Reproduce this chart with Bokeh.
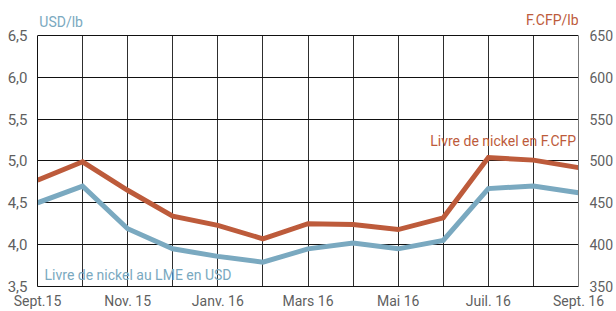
from bokeh.plotting import figure
from bokeh.models import Range1d, LinearAxis, FixedTicker, CustomJSTickFormatter, Label
from bokeh.embed import file_html
from bokeh.resources import INLINE

months = ["Sept.15", "Oct. 15", "Nov. 15", "Déc. 15", "Janv. 16", "Févr. 16", "Mars 16",
          "Avr. 16", "Mai 16", "Juin 16", "Juil. 16", "Août 16", "Sept. 16"]
shown_months = ["Sept.15", "Nov. 15", "Janv. 16", "Mars 16", "Mai 16", "Juil. 16", "Sept. 16"]
usd_lme = [4.50, 4.70, 4.19, 3.95, 3.86, 3.79, 3.95, 4.02, 3.95, 4.05, 4.67, 4.70, 4.62]
cfp_price = [477, 499, 465, 434, 423, 407, 425, 424, 418, 432, 504, 501, 492]
usd_ticks = [3.5, 4.0, 4.5, 5.0, 5.5, 6.0, 6.5]
cfp_ticks = [350, 400, 450, 500, 550, 600, 650]

FONT = "Roboto"
BLUE = "#7aa9c0"
RED = "#bd5b3b"
GREY = "#5f5f5f"

# layout (pixels): plot frame spans 252 px for the 3.5..6.5 scale, plus a 25 px
# headroom strip above it where the unit titles sit
FRAME_PX = 252
HEAD_PX = 25
usd_span = usd_ticks[-1] - usd_ticks[0]
cfp_span = cfp_ticks[-1] - cfp_ticks[0]
usd_top = usd_ticks[-1] + usd_span * HEAD_PX / FRAME_PX
cfp_top = cfp_ticks[-1] + cfp_span * HEAD_PX / FRAME_PX

x = list(range(len(months)))

p = figure(width=616, height=311, output_backend="svg", toolbar_location=None,
           x_range=Range1d(0, len(months) - 1), y_range=Range1d(usd_ticks[0], usd_top),
           min_border_left=37, min_border_right=31, min_border_top=10, min_border_bottom=24,
           background_fill_color="white", border_fill_color="white")
p.extra_y_ranges = {"cfp": Range1d(cfp_ticks[0], cfp_top)}
p.outline_line_color = None

# x axis
p.xaxis.ticker = FixedTicker(ticks=x)
overrides = {}
for i, m in enumerate(months):
    overrides[i] = m if m in shown_months else ""
p.xaxis.major_label_overrides = overrides
p.xaxis.major_tick_line_color = None
p.xaxis.minor_tick_line_color = None
p.xaxis.axis_line_color = "#111111"
p.xaxis.major_label_standoff = 0
p.xaxis.major_label_text_font = FONT
p.xaxis.major_label_text_font_size = "14px"
p.xaxis.major_label_text_color = GREY

# left axis
p.yaxis.ticker = FixedTicker(ticks=usd_ticks)
p.yaxis.bounds = (usd_ticks[0], usd_ticks[-1])
p.yaxis.formatter = CustomJSTickFormatter(code="return tick.toFixed(1).replace('.', ',');")
p.yaxis.major_tick_line_color = None
p.yaxis.minor_tick_line_color = None
p.yaxis.axis_line_color = "#111111"
p.yaxis.major_label_standoff = 4
p.yaxis.major_label_text_font = FONT
p.yaxis.major_label_text_font_size = "15px"
p.yaxis.major_label_text_color = GREY

# right axis
ra = LinearAxis(y_range_name="cfp", ticker=FixedTicker(ticks=cfp_ticks),
                bounds=(cfp_ticks[0], cfp_ticks[-1]))
ra.major_tick_line_color = None
ra.minor_tick_line_color = None
ra.axis_line_color = "#777777"
ra.major_label_standoff = 5
ra.major_label_text_font = FONT
ra.major_label_text_font_size = "14px"
ra.major_label_text_color = GREY
p.add_layout(ra, "right")

# grids
p.xgrid.ticker = FixedTicker(ticks=x)
p.xgrid.cross_bounds = (usd_ticks[0], usd_ticks[-1])
p.xgrid.grid_line_color = "#2e2e2e"
p.xgrid.grid_line_alpha = 1
p.ygrid.ticker = FixedTicker(ticks=usd_ticks)
p.ygrid.grid_line_color = "#111111"
p.ygrid.grid_line_alpha = 1

# lines
p.line(x, usd_lme, line_color=BLUE, line_width=5, line_join="miter")
p.line(x, cfp_price, line_color=RED, line_width=5, line_join="miter", y_range_name="cfp")

# labels
p.add_layout(Label(x=2.23, y=3.637, text="Livre de nickel au LME en USD", text_align="center",
                   text_baseline="middle", text_color=BLUE, text_font=FONT, text_font_size="14px"))
p.add_layout(Label(x=10.33, y=524, y_range_name="cfp", text="Livre de nickel en F.CFP",
                   text_align="center", text_baseline="middle", text_color=RED, text_font=FONT,
                   text_font_size="14px"))
p.add_layout(Label(x=0.04, y=6.661, text="USD/lb", text_align="left", text_baseline="middle",
                   text_color=BLUE, text_font=FONT, text_font_size="14px"))
p.add_layout(Label(x=12, y=668, y_range_name="cfp", text="F.CFP/lb", text_align="right",
                   text_baseline="middle", text_color=RED, text_font=FONT, text_font_size="14px"))

open("out.html", "w").write(file_html(p, INLINE))
